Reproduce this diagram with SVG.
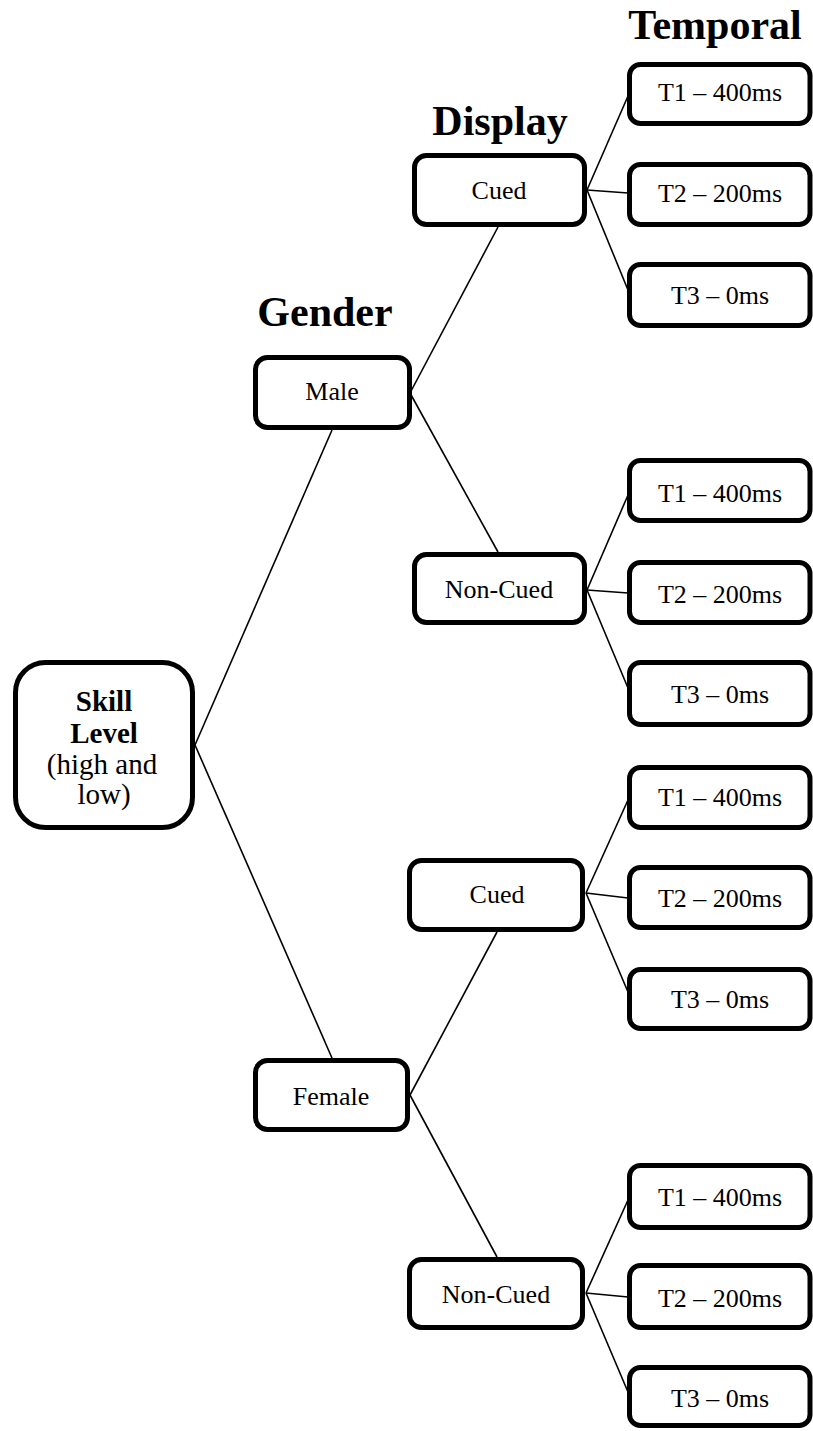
<svg xmlns="http://www.w3.org/2000/svg" width="813" height="1431" viewBox="0 0 813 1431">
<style>
.box{fill:#fff;stroke:#000;stroke-width:5}
.t{font-family:"Liberation Serif","Times New Roman",serif;font-size:26px;fill:#000;text-anchor:middle}
.s{font-size:29px}
.h{font-family:"Liberation Serif","Times New Roman",serif;font-size:42px;font-weight:bold;fill:#000;text-anchor:middle}
.b{font-weight:bold}
.c line{stroke:#000;stroke-width:1.6}
</style>
<rect width="813" height="1431" fill="#fff"/>
<g id="headers">
<text class="h" x="715" y="39">Temporal</text>
<text class="h" x="500" y="135">Display</text>
<text class="h" x="325" y="326">Gender</text>
</g>
<g class="c" id="connectors">
<line x1="195" y1="745" x2="332" y2="430"/>
<line x1="195" y1="745" x2="332" y2="1058"/>
<line x1="410" y1="393" x2="498" y2="227"/>
<line x1="410" y1="393" x2="498" y2="552"/>
<line x1="410" y1="1095" x2="497" y2="932"/>
<line x1="410" y1="1095" x2="497" y2="1257"/>
<line x1="587" y1="190" x2="628" y2="96"/>
<line x1="587" y1="190" x2="628" y2="193"/>
<line x1="587" y1="190" x2="628" y2="290"/>
<line x1="587" y1="590" x2="628" y2="495"/>
<line x1="587" y1="590" x2="628" y2="593"/>
<line x1="587" y1="590" x2="628" y2="688"/>
<line x1="586" y1="893" x2="628" y2="800"/>
<line x1="586" y1="893" x2="628" y2="898"/>
<line x1="586" y1="893" x2="628" y2="992"/>
<line x1="586" y1="1293" x2="628" y2="1200"/>
<line x1="586" y1="1293" x2="628" y2="1297"/>
<line x1="586" y1="1293" x2="628" y2="1392"/>
</g>
<g id="skill">
<rect class="box" x="15.5" y="662.5" width="177" height="165" rx="30"/>
<text class="t s b" x="104" y="711">Skill</text>
<text class="t s b" x="104" y="743">Level</text>
<text class="t s" x="102" y="774">(high and</text>
<text class="t s" x="104" y="804">low)</text>
</g>
<g id="male"><rect class="box" x="255.5" y="357.5" width="154" height="70" rx="12"/><text class="t" x="332" y="400">Male</text></g>
<g id="female"><rect class="box" x="255.5" y="1060.5" width="152" height="69" rx="12"/><text class="t" x="331" y="1105">Female</text></g>
<g id="cued-m"><rect class="box" x="414.5" y="155.5" width="170" height="69" rx="12"/><text class="t" x="499" y="199">Cued</text></g>
<g id="noncued-m"><rect class="box" x="414.5" y="554.5" width="170" height="68" rx="12"/><text class="t" x="499" y="598">Non-Cued</text></g>
<g id="cued-f"><rect class="box" x="409.5" y="860.5" width="173" height="69" rx="12"/><text class="t" x="497" y="903">Cued</text></g>
<g id="noncued-f"><rect class="box" x="409.5" y="1259.5" width="173" height="68" rx="12"/><text class="t" x="496" y="1303">Non-Cued</text></g>
<g id="t1-cm"><rect class="box" x="629.5" y="64.5" width="180.5" height="59" rx="11"/><text class="t" x="720" y="101">T1 – 400ms</text></g>
<g id="t2-cm"><rect class="box" x="629.5" y="164.5" width="180.5" height="60" rx="11"/><text class="t" x="720" y="202">T2 – 200ms</text></g>
<g id="t3-cm"><rect class="box" x="629.5" y="264.5" width="180.5" height="61" rx="11"/><text class="t" x="720" y="304">T3 – 0ms</text></g>
<g id="t1-nm"><rect class="box" x="629.5" y="460.5" width="180.5" height="60" rx="11"/><text class="t" x="720" y="502">T1 – 400ms</text></g>
<g id="t2-nm"><rect class="box" x="629.5" y="562.5" width="180.5" height="60" rx="11"/><text class="t" x="720" y="603">T2 – 200ms</text></g>
<g id="t3-nm"><rect class="box" x="629.5" y="662.5" width="180.5" height="62" rx="11"/><text class="t" x="720" y="703">T3 – 0ms</text></g>
<g id="t1-cf"><rect class="box" x="629.5" y="767.5" width="180.5" height="60" rx="11"/><text class="t" x="720" y="806">T1 – 400ms</text></g>
<g id="t2-cf"><rect class="box" x="629.5" y="867.5" width="180.5" height="60" rx="11"/><text class="t" x="720" y="907">T2 – 200ms</text></g>
<g id="t3-cf"><rect class="box" x="629.5" y="969.5" width="180.5" height="59" rx="11"/><text class="t" x="720" y="1008">T3 – 0ms</text></g>
<g id="t1-nf"><rect class="box" x="629.5" y="1165.5" width="180.5" height="62" rx="11"/><text class="t" x="720" y="1206">T1 – 400ms</text></g>
<g id="t2-nf"><rect class="box" x="629.5" y="1265.5" width="180.5" height="62" rx="11"/><text class="t" x="720" y="1307">T2 – 200ms</text></g>
<g id="t3-nf"><rect class="box" x="629.5" y="1367.5" width="180.5" height="58" rx="11"/><text class="t" x="720" y="1407">T3 – 0ms</text></g>
</svg>
